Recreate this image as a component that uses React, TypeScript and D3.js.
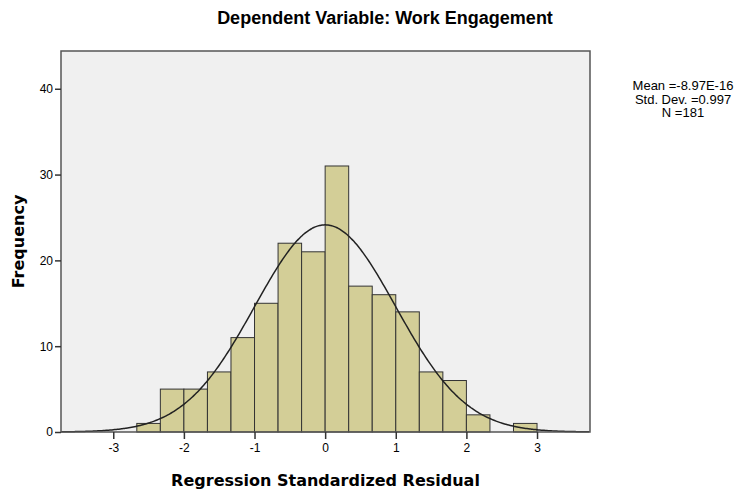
import React from "react";
import * as d3 from "d3";

const binStarts = [-8, -7, -6, -5, -4, -3, -2, -1, 0, 1, 2, 3, 4, 5, 6, 7, 8];
const binCounts = [1, 5, 5, 7, 11, 15, 22, 21, 31, 17, 16, 14, 7, 6, 2, 0, 1];
const binWidth = 1 / 3;
const xTicks = [-3, -2, -1, 0, 1, 2, 3];
const yTicks = [0, 10, 20, 30, 40];
const statLines = ["Mean =-8.97E-16", "Std. Dev. =0.997", "N =181"];
const mean = -8.97e-16;
const sd = 0.997;
const n = 181;

const W = 743;
const H = 495;
const margin = { left: 61, right: 153, top: 51, bottom: 63 };
const arial = "Arial, 'Liberation Sans', sans-serif";
const wide = "'DejaVu Sans', Verdana, sans-serif";

const App = () => {
  const svgRef = React.useRef<SVGSVGElement>(null);

  React.useEffect(() => {
    const svg = d3.select(svgRef.current);
    svg.selectAll("*").remove();

    const x = d3.scaleLinear().domain([-3.74, 3.75]).range([margin.left, W - margin.right]);
    const y = d3.scaleLinear().domain([0, 44.4]).range([H - margin.bottom, margin.top]);

    svg.append("rect")
      .attr("x", margin.left)
      .attr("y", margin.top)
      .attr("width", W - margin.right - margin.left)
      .attr("height", H - margin.bottom - margin.top)
      .attr("fill", "#f0f0f0");

    const bins = binStarts.map((b, i) => ({ x0: b * binWidth, x1: (b + 1) * binWidth, count: binCounts[i] }));

    svg.append("g")
      .selectAll("rect")
      .data(bins.filter(d => d.count > 0))
      .join("rect")
      .attr("x", d => x(d.x0))
      .attr("y", d => y(d.count))
      .attr("width", d => x(d.x1) - x(d.x0))
      .attr("height", d => y(0) - y(d.count))
      .attr("fill", "#d3ce97")
      .attr("stroke", "#333")
      .attr("stroke-width", 1);

    // normal curve
    const pts = d3.range(-3.74, 3.751, 0.02).map(v => [v, n * binWidth * (1 / (sd * Math.sqrt(2 * Math.PI))) * Math.exp(-0.5 * ((v - mean) / sd) ** 2)]);
    svg.append("path")
      .datum(pts)
      .attr("d", d3.line<number[]>().x(d => x(d[0])).y(d => y(d[1])).curve(d3.curveBasis))
      .attr("fill", "none")
      .attr("stroke", "#222")
      .attr("stroke-width", 1.5);

    // frame
    svg.append("rect")
      .attr("x", margin.left)
      .attr("y", margin.top)
      .attr("width", W - margin.right - margin.left)
      .attr("height", H - margin.bottom - margin.top)
      .attr("fill", "none")
      .attr("stroke", "#555")
      .attr("stroke-width", 1.5);

    const gx = svg.append("g")
      .attr("transform", `translate(0, ${H - margin.bottom})`)
      .call(d3.axisBottom(x).tickValues(xTicks).tickSize(7).tickPadding(4).tickFormat(d => String(d)));
    gx.select(".domain").remove();
    gx.selectAll("line").attr("stroke", "#333").attr("stroke-width", 1.5);
    gx.selectAll("text").attr("font-family", arial).attr("font-size", 12).attr("fill", "#000");

    const gy = svg.append("g")
      .attr("transform", `translate(${margin.left}, 0)`)
      .call(d3.axisLeft(y).tickValues(yTicks).tickSize(6).tickPadding(2).tickFormat(d => String(d)));
    gy.select(".domain").remove();
    gy.selectAll("line").attr("stroke", "#333").attr("stroke-width", 1.5);
    gy.selectAll("text").attr("font-family", arial).attr("font-size", 12).attr("fill", "#000");

    svg.append("text")
      .attr("x", 385)
      .attr("y", 24)
      .attr("text-anchor", "middle")
      .attr("font-family", arial)
      .attr("font-weight", "bold")
      .attr("font-size", 18)
      .text("Dependent Variable: Work Engagement");

    svg.append("text")
      .attr("x", (margin.left + W - margin.right) / 2)
      .attr("y", 486)
      .attr("text-anchor", "middle")
      .attr("font-family", wide)
      .attr("font-weight", "bold")
      .attr("font-size", 16)
      .text("Regression Standardized Residual");

    svg.append("text")
      .attr("transform", `translate(24, ${(margin.top + H - margin.bottom) / 2}) rotate(-90)`)
      .attr("text-anchor", "middle")
      .attr("font-family", wide)
      .attr("font-weight", "bold")
      .attr("font-size", 16)
      .text("Frequency");

    svg.append("g")
      .selectAll("text")
      .data(statLines)
      .join("text")
      .attr("x", 683)
      .attr("y", (d, i) => 90 + i * 13.5)
      .attr("text-anchor", "middle")
      .attr("font-family", arial)
      .attr("font-size", 13)
      .text(d => d);
  }, []);

  return (
    <svg ref={svgRef} width={W} height={H} style={{ position: "absolute", left: 0, top: 0, background: "#fff" }} />
  );
};

export default App;
